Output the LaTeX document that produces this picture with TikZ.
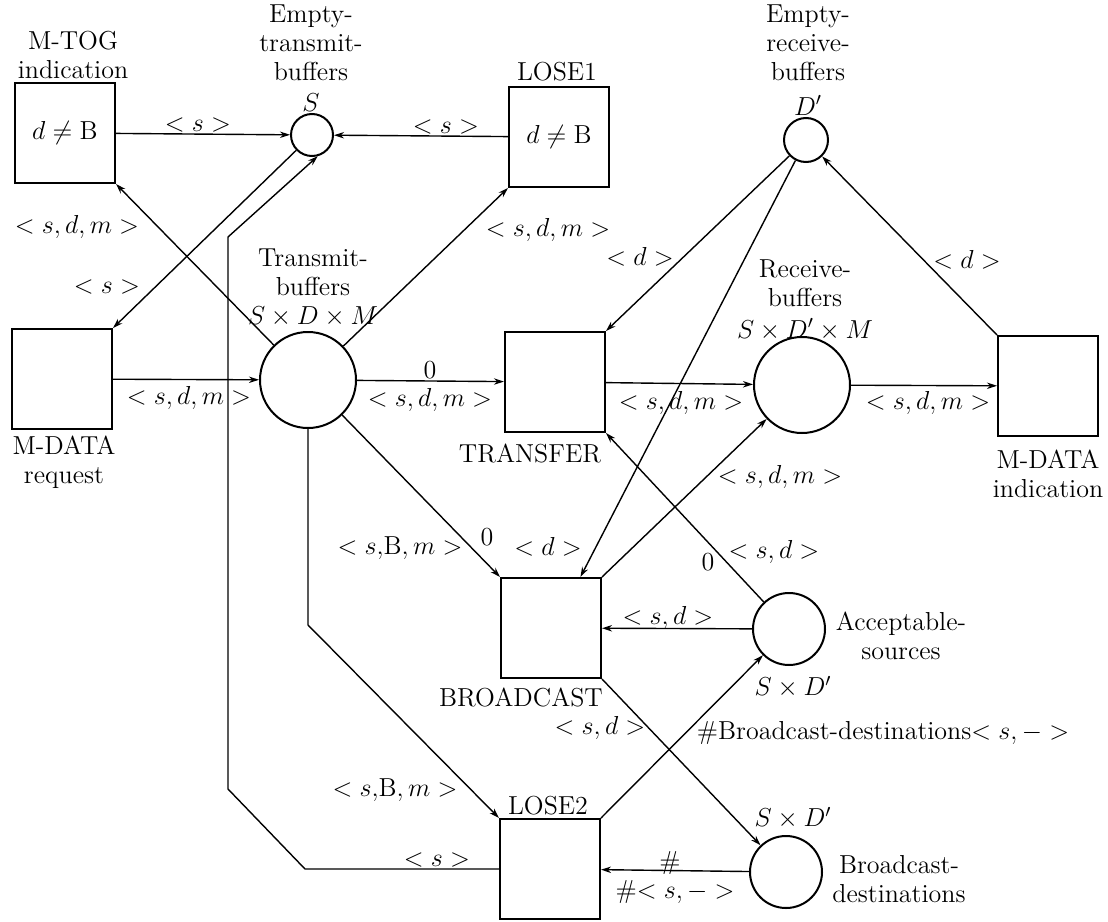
\RequirePackage{fix-cm}
\documentclass[tikz,border=0pt]{standalone}
\usetikzlibrary{arrows.meta}
\begin{document}
\begin{tikzpicture}[x=0.5pt,y=-0.5pt,
  every node/.style={font=\fontsize{13}{14.5}\selectfont},
  trans/.style={draw,line width=1pt,minimum width=50pt,minimum height=50pt,inner sep=0pt},
  place/.style={draw,circle,line width=1pt,inner sep=0pt},
  arc/.style={line width=0.7pt,-{Stealth[length=5pt,width=3.2pt]}},
  lbl/.style={inner sep=0pt},
  blk/.style={align=center,inner sep=0pt}]
\useasboundingbox (0,0) rectangle (1108,921);
% transitions and places
\node[trans] (mtog) at (65,133) {$d\neq\mathrm{B}$};
\node[place,minimum size=21pt] (etb) at (312,135) {};
\node[trans] (lose1) at (559,137) {$d\neq\mathrm{B}$};
\node[place,minimum size=22pt] (erb) at (806,140) {};
\node[trans] (mdreq) at (62,379) {};
\node[place,minimum size=48pt] (tb) at (308,380) {};
\node[trans] (transfer) at (555,382) {};
\node[place,minimum size=48pt] (rb) at (802,385) {};
\node[trans] (mdind) at (1048,386) {};
\node[trans] (broadcast) at (551,628) {};
\node[place,minimum size=36pt] (as) at (789,629) {};
\node[trans] (lose2) at (550,869) {};
\node[place,minimum size=36pt] (bd) at (786,872) {};
% node labels
\node[blk] (tmtog) at (73,55) {M-TOG\\indication};
\node[blk] (tetb) at (311,58) {Empty-\\transmit-\\buffers\\[1pt]$S$};
\node[blk] (tlose1) at (557,72) {LOSE1};
\node[blk] (terb) at (808,60) {Empty-\\receive-\\buffers\\[3pt]$D'$};
\node[blk] (ttb) at (313,288) {Transmit-\\buffers\\$S\times D\times M$};
\node[blk] (trb) at (805,300) {Receive-\\buffers\\[1.5pt]$S\times D'\times M$};
\node[blk] (tmdreq) at (64,462) {M-DATA\\request};
\node[blk] (tmdind) at (1048,474) {M-DATA\\indication};
\node[blk] (ttransfer) at (530,453) {TRANSFER};
\node[blk] (tbroadcast) at (521,697) {BROADCAST};
\node[blk] (tlose2) at (548,806) {LOSE2};
\node[blk] (tas) at (901,636) {Acceptable-\\sources};
\node[blk] (tasd) at (793,687) {$S\times D'$};
\node[blk] (tbdd) at (793,818) {$S\times D'$};
\node[blk] (tbd) at (899,879) {Broadcast-\\destinations};
% connectors
\coordinate (c1) at (305,869);
\coordinate (c2) at (228,789);
\coordinate (c3) at (228,237);
\coordinate (c4) at (308,625);
\draw[arc] (mtog) -- (etb);
\draw[arc] (lose1) -- (etb);
\draw[arc] (tb) -- (mtog.south east);
\draw[arc] (tb) -- (lose1.south west);
\draw[arc] (etb) -- (mdreq.north east);
\draw[arc] (lose2.west) -- (c1) -- (c2) -- (c3) -- (etb.-75);
\draw[arc] (mdreq) -- (tb);
\draw[arc] (tb) -- (transfer);
\draw[arc] (transfer) -- (rb);
\draw[arc] (rb) -- (mdind);
\draw[arc] (erb) -- (transfer.north east);
\draw[arc] (erb) -- (broadcast.60);
\draw[arc] (mdind.north west) -- (erb);
\draw[arc] (tb) -- (broadcast.north west);
\draw[arc] (broadcast.north east) -- (rb);
\draw[arc] (as) -- (transfer.south east);
\draw[arc] (as) -- (broadcast);
\draw[arc] (broadcast.south east) -- (bd);
\draw[arc] (lose2.north east) -- (as);
\draw[arc] (bd) -- (lose2);
\draw[arc] (tb.south) -- (c4) -- (lose2.north west);
% inscriptions
\node[lbl] (l1) at (198,125) {$<s>$};
\node[lbl] (l2) at (446,127) {$<s>$};
\node[lbl] (l3) at (77,227) {$<s,d,m>$};
\node[lbl] (l4) at (107,287) {$<s>$};
\node[lbl] (l5) at (548,230) {$<s,d,m>$};
\node[lbl] (l6) at (640,257) {$<d>$};
\node[lbl] (l7) at (967,260) {$<d>$};
\node[lbl] (l8) at (189,398) {$<s,d,m>$};
\node[lbl] (l9) at (430,370) {$0$};
\node[lbl] (l10) at (430,400) {$<s,d,m>$};
\node[lbl] (l11) at (681,403) {$<s,d,m>$};
\node[lbl] (l12) at (928,403) {$<s,d,m>$};
\node[lbl] (l13) at (780,477) {$<s,d,m>$};
\node[lbl] (l14) at (400,548) {$<s{,}\mathrm{B},m>$};
\node[lbl] (l15) at (487,537) {$0$};
\node[lbl] (l16) at (548,547) {$<d>$};
\node[lbl] (l17) at (774,552) {$<s,d>$};
\node[lbl] (l18) at (708,562) {$0$};
\node[lbl] (l19) at (668,618) {$<s,d>$};
\node[lbl] (l20) at (600,728) {$<s,d>$};
\node[lbl] (l21) at (883,733) {\#Broadcast-destinations$<s,->$};
\node[lbl] (l22) at (395,790) {$<s{,}\mathrm{B},m>$};
\node[lbl] (l23) at (437,860) {$<s>$};
\node[lbl] (l24) at (670,863) {\#};
\node[lbl] (l25) at (675,892) {\#$<s,->$};
\end{tikzpicture}
\end{document}
